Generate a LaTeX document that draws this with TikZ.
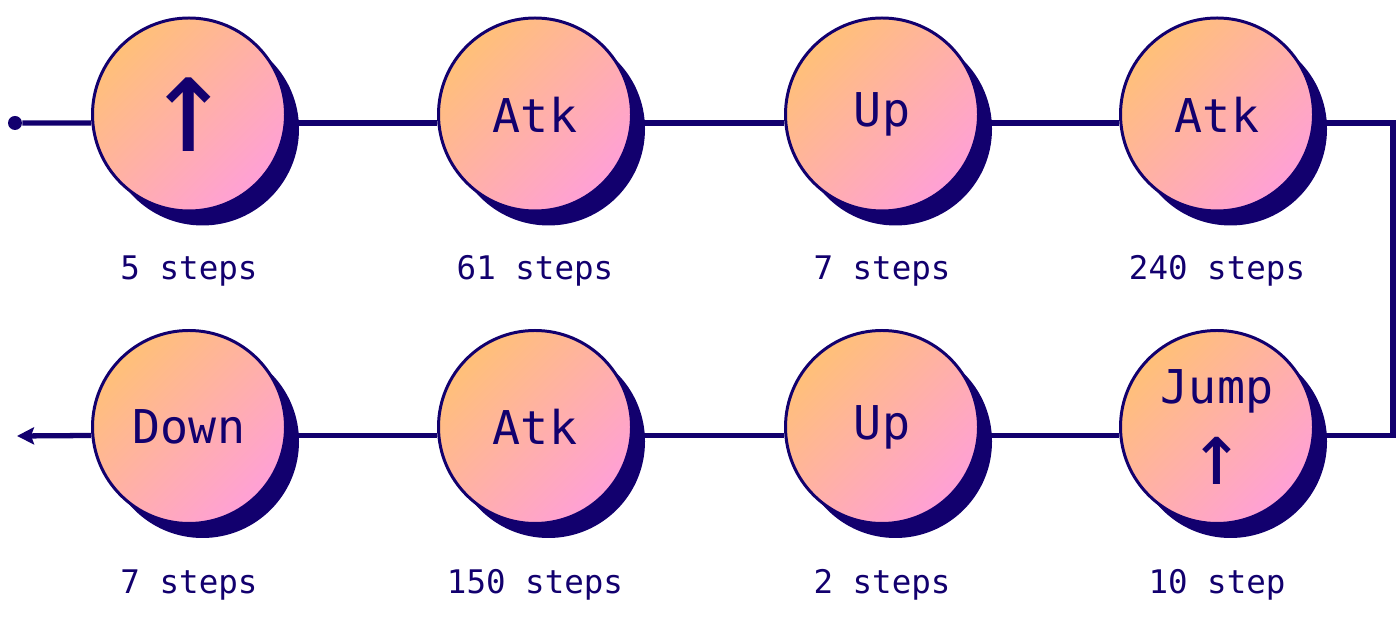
\documentclass[tikz,border=0pt]{standalone}
\usepackage{fontspec}
\setmonofont{DejaVu Sans Mono}
\usetikzlibrary{shadows,backgrounds,arrows.meta}
\definecolor{navy}{HTML}{12006E}
\definecolor{peach}{HTML}{FFC078}
\definecolor{rose}{HTML}{FFA0D6}
\tikzset{
  move/.style={shape=circle, minimum size=3.86cm, inner sep=0pt, draw=navy, line width=1.7pt,
    top color=peach, bottom color=rose, shading angle=45,
    drop shadow={shadow xshift=0.27cm, shadow yshift=-0.29cm, fill=navy, opacity=1},
    text=navy, align=center, font=\ttfamily\fontsize{26.5}{30}\selectfont},
  count/.style={anchor=base, text=navy, font=\ttfamily\fontsize{18.5}{20}\selectfont},
  wire/.style={draw=navy, line width=3pt},
}
\begin{document}
\begin{tikzpicture}
\useasboundingbox (0,0) rectangle (28,12.36);
\node[move] (A) at (3.78,10.07) {\fontsize{78}{80}\selectfont ↑};
\node[move] (B) at (10.70,10.07) {Atk};
\node[move] (C) at (17.64,10.07) {Up};
\node[move] (D) at (24.34,10.07) {Atk};
\node[move] (E) at (24.34,3.82) {Jump\\[13pt] \fontsize{50}{52}\selectfont ↑};
\node[move] (F) at (17.64,3.82) {Up};
\node[move] (G) at (10.70,3.82) {Atk};
\node[move] (H) at (3.78,3.82) {Down};
\node[count] (a) at (3.78,6.76) {5 steps};
\node[count] (b) at (10.70,6.76) {61 steps};
\node[count] (c) at (17.64,6.76) {7 steps};
\node[count] (d) at (24.34,6.76) {240 steps};
\node[count] (e) at (24.34,0.48) {10 step};
\node[count] (f) at (17.64,0.48) {2 steps};
\node[count] (g) at (10.70,0.48) {150 steps};
\node[count] (h) at (3.78,0.48) {7 steps};
\node[shape=circle, fill=navy, minimum size=0.28cm, inner sep=0pt] (S) at (0.30,9.90) {};
\coordinate (R) at (27.86,7);
\coordinate (T) at (0.34,3.64);
\begin{scope}[on background layer]
\draw[wire] (S) -- ([yshift=-0.17cm]A.west);
\draw[wire] ([yshift=-0.17cm]A.east) -- ([yshift=-0.17cm]B.west);
\draw[wire] ([yshift=-0.17cm]B.east) -- ([yshift=-0.17cm]C.west);
\draw[wire] ([yshift=-0.17cm]C.east) -- ([yshift=-0.17cm]D.west);
\draw[wire] ([yshift=-0.17cm]D.east) -| (R) |- ([yshift=-0.17cm]E.east);
\draw[wire] ([yshift=-0.17cm]E.west) -- ([yshift=-0.17cm]F.east);
\draw[wire] ([yshift=-0.17cm]F.west) -- ([yshift=-0.17cm]G.east);
\draw[wire] ([yshift=-0.17cm]G.west) -- ([yshift=-0.17cm]H.east);
\draw[wire, -{Stealth[length=0.34cm, width=0.34cm, inset=0.06cm]}] ([yshift=-0.17cm]H.west) -- (T);
\end{scope}
\end{tikzpicture}
\end{document}
